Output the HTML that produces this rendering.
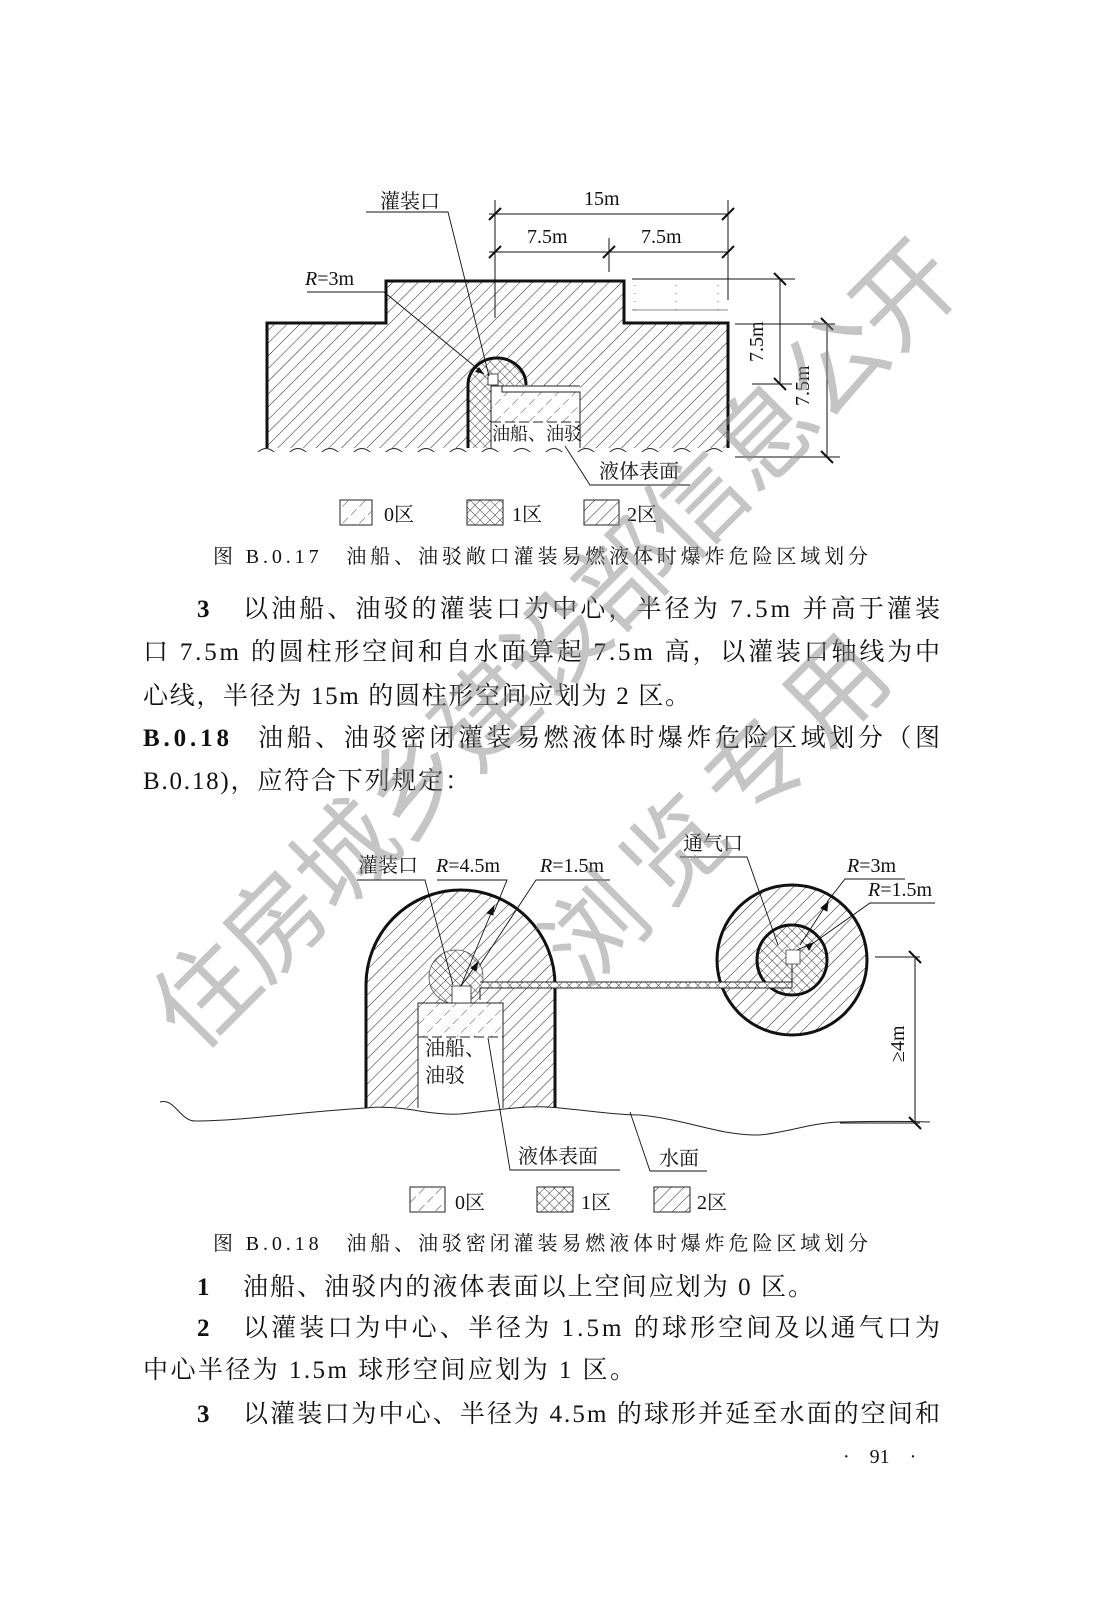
<!DOCTYPE html>
<html><head><meta charset="utf-8"><style>
html,body{margin:0;padding:0;background:#fff}
svg{display:block}
.t{font-family:"Liberation Serif","Noto Serif CJK SC",serif;fill:#111}
.s{font-family:"Liberation Serif","Noto Serif CJK SC",serif;fill:#111;font-size:20px}
</style></head><body>
<svg width="1102" height="1598" viewBox="0 0 1102 1598" xmlns="http://www.w3.org/2000/svg">
<defs>
<pattern id="h2" patternUnits="userSpaceOnUse" width="9" height="9" patternTransform="rotate(45)">
<line x1="0" y1="0" x2="0" y2="9" stroke="#222" stroke-width="1"/></pattern>
<pattern id="h0" patternUnits="userSpaceOnUse" width="12" height="12" patternTransform="rotate(45)">
<line x1="0" y1="0" x2="0" y2="8" stroke="#333" stroke-width="0.9"/></pattern>
<pattern id="h1" patternUnits="userSpaceOnUse" width="7" height="7" patternTransform="rotate(45)">
<line x1="0" y1="0" x2="0" y2="7" stroke="#222" stroke-width="0.9"/><line x1="0" y1="0" x2="7" y2="0" stroke="#222" stroke-width="0.9"/></pattern>
</defs>

<!-- ===== TOP DIAGRAM ===== -->
<path d="M267,448 L267,323 L386,323 L386,281 L624,281 L624,323 L728,323 L728,448 Z" fill="url(#h2)"/>
<path d="M267,448 L267,323 L386,323 L386,281 L624,281 L624,323 L728,323 L728,448" fill="none" stroke="#111" stroke-width="3"/>
<path d="M468,448 L468,385 A29,27 0 0 1 526,385 L526,448 Z" fill="#fff"/>
<path d="M468,448 L468,385 A29,27 0 0 1 526,385 L526,448 Z" fill="url(#h1)"/>
<path d="M468,448 L468,385 A29,27 0 0 1 526,385" fill="none" stroke="#111" stroke-width="3"/>
<rect x="491" y="386" width="89" height="62" fill="#fff"/>
<rect x="491" y="392" width="89" height="30" fill="url(#h0)"/>
<path d="M491,448 L491,386 L502,386 L502,392 L580,392 L580,448" fill="none" stroke="#222" stroke-width="1"/>
<line x1="491" y1="386" x2="580" y2="386" stroke="#222" stroke-width="1"/>
<line x1="491" y1="422" x2="580" y2="422" stroke="#222" stroke-width="1" stroke-dasharray="10,4"/>
<rect x="488" y="374" width="10" height="11" fill="#fff" stroke="#222" stroke-width="0.8"/>
<text class="t" x="492" y="440" font-size="18">油船、油驳</text>
<path d="M258,452 q8,-7 16,0 t16,0 t16,0 t16,0 t16,0 t16,0 t16,0 t16,0 t16,0 t16,0 t16,0 t16,0 t16,0 t16,0 t16,0 t16,0 t16,0 t16,0 t16,0 t16,0 t16,0 t16,0 t16,0 t16,0 t16,0 t16,0 t16,0 t16,0 t16,0 t16,0" fill="#fff" stroke="#222" stroke-width="1"/>
<rect x="258" y="452" width="480" height="8" fill="#fff"/>
<path d="M632,279 L728,279 M632,310 L728,310" stroke="#888" stroke-width="1"/>
<path d="M635,285 V310 M676,285 V310 M718,285 V310" stroke="#777" stroke-width="1" stroke-dasharray="1,7"/>
<g stroke="#111" stroke-width="1">
<line x1="489" y1="214" x2="728" y2="214"/>
<line x1="489" y1="252" x2="728" y2="252"/>
<line x1="495" y1="200" x2="495" y2="318"/>
<line x1="609" y1="238" x2="609" y2="272"/>
<line x1="728" y1="200" x2="728" y2="300"/>
<line x1="632" y1="279" x2="795" y2="279"/>
<line x1="735" y1="324" x2="835" y2="324"/>
<line x1="752" y1="384" x2="792" y2="384"/>
<line x1="735" y1="457" x2="840" y2="457"/>
<line x1="780" y1="279" x2="780" y2="384"/>
<line x1="827" y1="324" x2="827" y2="457"/>
</g>
<g stroke="#111" stroke-width="2">
<line x1="489" y1="220" x2="501" y2="208"/><line x1="722" y1="220" x2="734" y2="208"/>
<line x1="489" y1="258" x2="501" y2="246"/><line x1="603" y1="258" x2="615" y2="246"/><line x1="722" y1="258" x2="734" y2="246"/>
<line x1="774" y1="273" x2="786" y2="285"/><line x1="774" y1="378" x2="786" y2="390"/>
<line x1="821" y1="318" x2="833" y2="330"/><line x1="821" y1="451" x2="833" y2="463"/>
</g>
<text class="s" x="584" y="205">15m</text>
<text class="s" x="527" y="243">7.5m</text>
<text class="s" x="641" y="243">7.5m</text>
<text class="s" transform="translate(763,362) rotate(-90)">7.5m</text>
<text class="s" transform="translate(809,406) rotate(-90)">7.5m</text>
<text class="t" x="380" y="208" font-size="20">灌装口</text>
<path d="M366,212 L448,212 L489,376" fill="none" stroke="#111" stroke-width="0.9"/>
<text class="s" x="305" y="285"><tspan font-style="italic">R</tspan>=3m</text>
<path d="M307,292 L384,292 L484,374" fill="none" stroke="#111" stroke-width="0.9"/>
<path d="M484,374 l-9,-2 l4,-5 z" fill="#111"/>
<text class="t" x="599" y="478" font-size="20">液体表面</text>
<path d="M690,485 L590,485 L565,446" fill="none" stroke="#111" stroke-width="0.9"/>
<rect x="340" y="500" width="32" height="25" fill="url(#h0)" stroke="#222" stroke-width="1"/>
<text class="t" x="384" y="521" font-size="20">0区</text>
<rect x="467" y="500" width="36" height="25" fill="url(#h1)" stroke="#222" stroke-width="1"/>
<text class="t" x="512" y="521" font-size="20">1区</text>
<rect x="584" y="500" width="35" height="25" fill="url(#h2)" stroke="#222" stroke-width="1"/>
<text class="t" x="627" y="521" font-size="20">2区</text>
<text class="t" x="213" y="563" font-size="20" textLength="655">图 B.0.17　油船、油驳敞口灌装易燃液体时爆炸危险区域划分</text>

<!-- ===== PROSE 1 ===== -->
<text class="t" x="197" y="617" font-size="25" font-weight="bold">3</text>
<text class="t" x="243" y="617" font-size="25" textLength="697">以油船、油驳的灌装口为中心，半径为 7.5m 并高于灌装</text>
<text class="t" x="143" y="660" font-size="25" textLength="797">口 7.5m 的圆柱形空间和自水面算起 7.5m 高，以灌装口轴线为中</text>
<text class="t" x="143" y="704" font-size="25" textLength="547">心线，半径为 15m 的圆柱形空间应划为 2 区。</text>
<text class="t" x="143" y="746" font-size="25" font-weight="bold" textLength="86">B.0.18</text>
<text class="t" x="258" y="746" font-size="25" textLength="682">油船、油驳密闭灌装易燃液体时爆炸危险区域划分（图</text>
<text class="t" x="143" y="789" font-size="25" textLength="327">B.0.18)，应符合下列规定：</text>

<!-- ===== BOTTOM DIAGRAM ===== -->
<path d="M366,1108 L366,985 A94.5,95 0 0 1 555,985 L555,1108 Z" fill="url(#h2)"/>
<circle cx="456" cy="977" r="27" fill="#fff"/>
<circle cx="456" cy="977" r="27" fill="url(#h1)" stroke="#555" stroke-width="0.8"/>
<rect x="418" y="1003" width="85" height="105" fill="#fff"/>
<rect x="418" y="1003" width="85" height="34" fill="url(#h0)"/>
<path d="M418,1108 V1003 H503 V1108" fill="none" stroke="#222" stroke-width="1"/>
<line x1="418" y1="1037" x2="503" y2="1037" stroke="#222" stroke-width="1" stroke-dasharray="10,4"/>
<rect x="452" y="986" width="19" height="17" fill="#fff" stroke="#222" stroke-width="0.8"/>
<path d="M366,1108 L366,985 A94.5,95 0 0 1 555,985 L555,1108" fill="none" stroke="#111" stroke-width="3"/>
<text class="t" x="425" y="1055" font-size="20">油船、</text>
<text class="t" x="425" y="1082" font-size="20">油驳</text>
<circle cx="792" cy="960" r="75" fill="url(#h2)" stroke="#111" stroke-width="3"/>
<circle cx="792" cy="960" r="35" fill="#fff"/>
<circle cx="792" cy="960" r="35" fill="url(#h1)" stroke="#111" stroke-width="3"/>
<rect x="480" y="982" width="312" height="6" fill="#fff"/>
<rect x="480" y="982" width="312" height="6" fill="url(#h1)"/>
<path d="M480,982 H792 M480,1000 V988 H792 M792,964 V988" fill="none" stroke="#222" stroke-width="1"/>
<rect x="786" y="950" width="14" height="14" fill="#fff" stroke="#444" stroke-width="0.8"/>
<path d="M160,1102 C175,1098 180,1121 195,1121 C240,1121 300,1112 366,1108 C400,1104 430,1116 460,1114 C500,1110 530,1104 560,1108 C600,1112 620,1115 640,1115 C690,1120 720,1136 760,1135 C790,1132 810,1123 840,1122 C880,1121 900,1121 930,1122" fill="none" stroke="#222" stroke-width="1"/>
<g stroke="#111" stroke-width="1">
<line x1="875" y1="957" x2="920" y2="957"/>
<line x1="840" y1="1123" x2="920" y2="1123"/>
<line x1="915" y1="957" x2="915" y2="1123"/>
</g>
<g stroke="#111" stroke-width="2"><line x1="909" y1="951" x2="921" y2="963"/><line x1="909" y1="1117" x2="921" y2="1129"/></g>
<text class="s" transform="translate(904,1062) rotate(-90)">≥4m</text>
<text class="t" x="358" y="872" font-size="20">灌装口</text>
<path d="M357,880 L425,880 L453,985" fill="none" stroke="#111" stroke-width="0.9"/>
<text class="s" x="436" y="872"><tspan font-style="italic">R</tspan>=4.5m</text>
<path d="M437,880 L507,880 L494,912" fill="none" stroke="#111" stroke-width="0.9"/>
<path d="M461,986 L494,906 M494,906 l-1,9 l-6,-2 z" fill="#111" stroke="#111" stroke-width="0.9"/>
<text class="s" x="540" y="872"><tspan font-style="italic">R</tspan>=1.5m</text>
<path d="M610,880 L536,880 L480,965" fill="none" stroke="#111" stroke-width="0.9"/>
<path d="M461,986 L478,962 M478,962 l-2,9 l-5,-3 z" fill="#111" stroke="#111" stroke-width="0.9"/>
<text class="t" x="683" y="850" font-size="20">通气口</text>
<path d="M680,857 L747,857 L778,945" fill="none" stroke="#111" stroke-width="0.9"/>
<text class="s" x="847" y="872"><tspan font-style="italic">R</tspan>=3m</text>
<path d="M905,879 L845,879 L827,902" fill="none" stroke="#111" stroke-width="0.9"/>
<path d="M800,945 L828,902 M828,902 l-1,9 l-6,-3 z" fill="#111" stroke="#111" stroke-width="0.9"/>
<text class="s" x="868" y="896"><tspan font-style="italic">R</tspan>=1.5m</text>
<path d="M935,903 L870,903 L812,944" fill="none" stroke="#111" stroke-width="0.9"/>
<path d="M797,950 L813,943 M813,943 l-4,7 l-3,-5 z" fill="#111" stroke="#111" stroke-width="0.9"/>
<text class="t" x="518" y="1163" font-size="20">液体表面</text>
<path d="M620,1170 L510,1170 L488,1038" fill="none" stroke="#111" stroke-width="0.9"/>
<text class="t" x="659" y="1165" font-size="20">水面</text>
<path d="M707,1171 L650,1171 L630,1112" fill="none" stroke="#111" stroke-width="0.9"/>
<rect x="410" y="1187" width="35" height="25" fill="url(#h0)" stroke="#222" stroke-width="1"/>
<text class="t" x="455" y="1209" font-size="20">0区</text>
<rect x="537" y="1187" width="36" height="25" fill="url(#h1)" stroke="#222" stroke-width="1"/>
<text class="t" x="581" y="1209" font-size="20">1区</text>
<rect x="654" y="1187" width="36" height="25" fill="url(#h2)" stroke="#222" stroke-width="1"/>
<text class="t" x="697" y="1209" font-size="20">2区</text>
<text class="t" x="213" y="1250" font-size="20" textLength="655">图 B.0.18　油船、油驳密闭灌装易燃液体时爆炸危险区域划分</text>

<!-- ===== PROSE 2 ===== -->
<text class="t" x="197" y="1295" font-size="25" font-weight="bold">1</text>
<text class="t" x="243" y="1295" font-size="25" textLength="570">油船、油驳内的液体表面以上空间应划为 0 区。</text>
<text class="t" x="197" y="1336" font-size="25" font-weight="bold">2</text>
<text class="t" x="243" y="1336" font-size="25" textLength="697">以灌装口为中心、半径为 1.5m 的球形空间及以通气口为</text>
<text class="t" x="143" y="1378" font-size="25" textLength="492">中心半径为 1.5m 球形空间应划为 1 区。</text>
<text class="t" x="197" y="1422" font-size="25" font-weight="bold">3</text>
<text class="t" x="243" y="1422" font-size="25" textLength="697">以灌装口为中心、半径为 4.5m 的球形并延至水面的空间和</text>
<text class="t" x="843" y="1463" font-size="20">·　91　·</text>

<g font-family="'Noto Sans CJK SC',sans-serif" fill="rgba(140,140,140,0.5)" font-size="100">
<text transform="translate(195,1055) rotate(-45)" textLength="1090" lengthAdjust="spacing">住房城乡建设部信息公开</text>
<text transform="translate(585,990) rotate(-45)" textLength="440" lengthAdjust="spacing">浏览专用</text>
</g>
</svg>
</body></html>
